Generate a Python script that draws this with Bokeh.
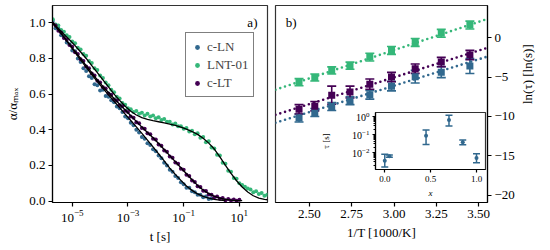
import numpy as np
from bokeh.plotting import figure
from bokeh.layouts import row
from bokeh.models import (ColumnDataSource, Range1d, FixedTicker, PrintfTickFormatter,
                          Legend, LegendItem, Label, Whisker, TeeHead)
from bokeh.embed import file_html
from bokeh.resources import INLINE

FONT = "Liberation Serif"
C_LN = "#31688e"
C_LNT = "#35b779"
C_LT = "#440154"

# ---------------- panel a data (log10 t, alpha/alpha_max) ----------------
log_t = [-5.7, -5.6, -5.5, -5.4, -5.3, -5.2, -5.1, -5.0, -4.9, -4.8, -4.7, -4.6, -4.5,
         -4.4, -4.3, -4.2, -4.1, -4.0, -3.9, -3.8, -3.7, -3.6, -3.5, -3.4, -3.3, -3.2,
         -3.1, -3.0, -2.9, -2.8, -2.7, -2.6, -2.5, -2.4, -2.3, -2.2, -2.1, -2.0, -1.9,
         -1.8, -1.7, -1.6, -1.5, -1.4, -1.3, -1.2, -1.1, -1.0, -0.9, -0.8, -0.7, -0.6,
         -0.5, -0.4, -0.3, -0.2, -0.1, 0.0, 0.1, 0.2, 0.3, 0.4, 0.5, 0.6, 0.7, 0.8, 0.9,
         1.0, 1.1, 1.2, 1.3, 1.4, 1.5, 1.6, 1.7, 1.8, 1.9, 2.0]

alpha_cln = [1.01, 0.97, 0.97, 0.93, 0.925, 0.89, 0.88, 0.845, 0.84, 0.80, 0.78, 0.745, 0.73,
             0.70, 0.69, 0.655, 0.65, 0.62, 0.625, 0.59, 0.585, 0.565, 0.555, 0.53, 0.52, 0.50,
             0.475, 0.465, 0.44, 0.425, 0.40, 0.385, 0.36, 0.35, 0.325, 0.315, 0.29, 0.28, 0.255,
             0.24, 0.215, 0.20, 0.175, 0.165, 0.14, 0.13, 0.105, 0.095, 0.075, 0.075, 0.055, 0.05,
             0.035, 0.036, 0.022, 0.025, 0.012, 0.014]

alpha_lnt = [1.02, 0.99, 0.985, 0.96, 0.95, 0.93, 0.92, 0.895, 0.885, 0.86, 0.85, 0.825, 0.815,
             0.785, 0.775, 0.745, 0.735, 0.705, 0.69, 0.665, 0.65, 0.625, 0.61, 0.585, 0.575, 0.55,
             0.54, 0.52, 0.515, 0.50, 0.505, 0.49, 0.495, 0.48, 0.49, 0.475, 0.48, 0.465, 0.47,
             0.455, 0.46, 0.445, 0.445, 0.43, 0.435, 0.42, 0.42, 0.405, 0.41, 0.39, 0.395, 0.375,
             0.38, 0.355, 0.36, 0.33, 0.335, 0.30, 0.295, 0.26, 0.255, 0.215, 0.21, 0.17, 0.165,
             0.13, 0.125, 0.10, 0.09, 0.08, 0.07, 0.065, 0.05, 0.055, 0.04, 0.045, 0.03, 0.035]

alpha_clt = [0.995, 0.985, 0.955, 0.945, 0.915, 0.905, 0.875, 0.865, 0.835, 0.825, 0.795, 0.785,
             0.755, 0.745, 0.715, 0.705, 0.675, 0.665, 0.638, 0.631, 0.604, 0.597, 0.57, 0.564,
             0.538, 0.532, 0.506, 0.50, 0.474, 0.468, 0.442, 0.436, 0.41, 0.405, 0.38, 0.375, 0.35,
             0.345, 0.318, 0.311, 0.284, 0.277, 0.25, 0.243, 0.216, 0.209, 0.182, 0.175, 0.148,
             0.141, 0.115, 0.107, 0.083, 0.079, 0.058, 0.057, 0.037, 0.035, 0.022, 0.026, 0.013,
             0.017, 0.005, 0.011, 0.003, 0.009, 0.002, 0.007]

# fitted curves (log10 t, alpha)
fit_log_t = [-5.7, -5.5, -5.3, -5.1, -4.9, -4.7, -4.5, -4.3, -4.1, -3.9, -3.7, -3.5, -3.3, -3.1,
             -2.9, -2.7, -2.5, -2.3, -2.1, -1.9, -1.7, -1.5, -1.3, -1.1, -0.9, -0.7, -0.5, -0.3,
             -0.1, 0.1, 0.3, 0.5, 0.7, 0.9, 1.1, 1.3, 1.5, 1.7, 1.9, 2.1]
fit_cln = [1.00, 0.96, 0.92, 0.877, 0.834, 0.792, 0.75, 0.71, 0.67, 0.632, 0.596, 0.56, 0.524,
           0.488, 0.452, 0.416, 0.38, 0.342, 0.304, 0.265, 0.225, 0.185, 0.150, 0.116, 0.085,
           0.060, 0.040, 0.026, 0.016, 0.009, 0.005, 0.002]
fit_clt = [1.00, 0.96, 0.92, 0.88, 0.84, 0.80, 0.76, 0.72, 0.68, 0.643, 0.609, 0.575, 0.543,
           0.511, 0.479, 0.447, 0.415, 0.385, 0.355, 0.323, 0.289, 0.255, 0.221, 0.187, 0.153,
           0.120, 0.088, 0.062, 0.042, 0.027, 0.016, 0.009, 0.005, 0.003, 0.002]
fit_lnt = [1.00, 0.968, 0.936, 0.905, 0.872, 0.836, 0.80, 0.76, 0.72, 0.68, 0.64, 0.60, 0.565,
           0.532, 0.504, 0.483, 0.468, 0.458, 0.451, 0.445, 0.439, 0.432, 0.424, 0.415, 0.404,
           0.39, 0.374, 0.352, 0.325, 0.292, 0.248, 0.20, 0.155, 0.114, 0.079, 0.051, 0.030,
           0.017, 0.009, 0.005]

# ---------------- panel b data ----------------
inv_T = [2.439, 2.532, 2.632, 2.740, 2.857, 2.985, 3.125, 3.279, 3.448]
ln_tau_ln = [-10.2, -9.5, -8.75, -8.0, -7.25, -6.15, -4.95, -4.37, -3.6]
err_ln = [0.5, 0.5, 0.5, 0.5, 0.55, 0.6, 0.8, 0.7, 0.95]
ln_tau_lnt = [-5.65, -5.05, -4.15, -3.55, -2.46, -1.61, -0.6, 0.57, 1.62]
err_lnt = [0.45, 0.45, 0.45, 0.45, 0.5, 0.5, 0.5, 0.5, 0.5]
ln_tau_lt = [-9.1, -8.7, -7.3, -6.9, -5.9, -5.0, -3.93, -3.09, -2.2]
err_lt = [0.6, 0.6, 1.15, 0.75, 0.65, 0.6, 0.6, 0.6, 0.6]

fit_invT = [2.30, 3.56]
fit_b_ln = [-10.8, -2.33]
fit_b_lnt = [-6.6, 2.45]
fit_b_lt = [-9.8, -1.22]

# ---------------- inset data ----------------
comp_x = [0.0, 0.05, 0.45, 0.7, 0.85, 1.0]
tau_c = [0.0035, 0.0063, 0.085, 0.63, 0.037, 0.005]
tau_lo = [0.0016, 0.0055, 0.028, 0.30, 0.027, 0.0027]
tau_hi = [0.0080, 0.0072, 0.18, 1.17, 0.049, 0.0087]


def style_axis(ax, fs="13px"):
    ax.major_label_text_font = FONT
    ax.major_label_text_font_size = fs
    ax.major_label_text_color = "black"
    ax.axis_label_text_font = FONT
    ax.axis_label_text_font_size = fs
    ax.axis_label_text_font_style = "normal"
    ax.axis_label_text_color = "black"
    ax.axis_line_color = "black"
    ax.axis_line_width = 1.2
    ax.major_tick_line_color = "black"
    ax.major_tick_line_width = 1.2
    ax.major_tick_in = 0
    ax.major_tick_out = 4
    ax.minor_tick_line_color = None
    ax.major_label_standoff = 3


def base_fig(**kw):
    p = figure(output_backend="svg", toolbar_location=None, title=None, **kw)
    p.xgrid.visible = False
    p.ygrid.visible = False
    p.outline_line_color = "#333333"
    p.outline_line_width = 1.2
    return p


# ---------------- panel a ----------------
p_a = base_fig(width=271, height=249, x_axis_type="log",
               x_range=Range1d(10 ** -5.71, 10 ** 2.01), y_range=Range1d(-0.008, 1.097),
               min_border_left=52, min_border_right=4, min_border_top=5, min_border_bottom=47)

t_ln = 10.0 ** np.array(log_t[:len(alpha_cln)])
t_lnt = 10.0 ** np.array(log_t[:len(alpha_lnt)])
t_lt = 10.0 ** np.array(log_t[:len(alpha_clt)])
r_ln = p_a.scatter(t_ln, alpha_cln, size=4, color=C_LN, line_color=None)
r_lnt = p_a.scatter(t_lnt, alpha_lnt, size=4, color=C_LNT, line_color=None)
r_lt = p_a.scatter(t_lt, alpha_clt, size=4, color=C_LT, line_color=None)

ft = 10.0 ** np.array(fit_log_t)
p_a.line(ft[:len(fit_cln)], fit_cln, color="black", line_width=1.3)
p_a.line(ft[:len(fit_lnt)], fit_lnt, color="black", line_width=1.3)
p_a.line(ft[:len(fit_clt)], fit_clt, color="black", line_width=1.3)

leg = Legend(items=[LegendItem(label="c-LN", renderers=[r_ln]),
                    LegendItem(label="LNT-01", renderers=[r_lnt]),
                    LegendItem(label="c-LT", renderers=[r_lt])],
             location=(133, 105), border_line_color="black", border_line_width=1.2,
             background_fill_color="white", background_fill_alpha=1.0,
             label_text_font=FONT, label_text_font_size="13px",
             glyph_width=12, glyph_height=12, label_standoff=4, spacing=1,
             padding=5, margin=0, label_height=17)
p_a.add_layout(leg)

p_a.xaxis.ticker = FixedTicker(ticks=[1e-5, 1e-3, 1e-1, 1e1])
p_a.yaxis.ticker = FixedTicker(ticks=[0.0, 0.2, 0.4, 0.6, 0.8, 1.0])
p_a.yaxis.formatter = PrintfTickFormatter(format="%.1f")
p_a.xaxis.axis_label = "t [s]"
p_a.yaxis.axis_label = "α/αₘₐₓ"
style_axis(p_a.xaxis[0])
style_axis(p_a.yaxis[0])
p_a.xaxis.axis_label_standoff = 4
p_a.yaxis.axis_label_standoff = 6
p_a.add_layout(Label(x=10 ** 1.65, y=1.0, text="a)", text_align="right", text_baseline="middle",
                     text_font=FONT, text_font_size="13px", text_color="black"))

# ---------------- panel b ----------------
p_b = base_fig(width=274, height=249, x_range=Range1d(2.30, 3.552), y_range=Range1d(-20.94, 4.10),
               y_axis_location="right",
               min_border_left=4, min_border_right=54, min_border_top=5, min_border_bottom=47)

for ys, errs, fy, col in [(ln_tau_ln, err_ln, fit_b_ln, C_LN),
                          (ln_tau_lnt, err_lnt, fit_b_lnt, C_LNT),
                          (ln_tau_lt, err_lt, fit_b_lt, C_LT)]:
    p_b.line(fit_invT, fy, color=col, line_width=2.6, line_dash="0 5", line_cap="round")
    src = ColumnDataSource(dict(x=inv_T, y=ys,
                                lo=[a - e for a, e in zip(ys, errs)],
                                hi=[a + e for a, e in zip(ys, errs)]))
    p_b.add_layout(Whisker(source=src, base="x", upper="hi", lower="lo", dimension="height",
                           line_color=col, line_width=1.6,
                           upper_head=TeeHead(size=9, line_color=col, line_width=1.6),
                           lower_head=TeeHead(size=9, line_color=col, line_width=1.6)))
    p_b.scatter("x", "y", source=src, marker="square", size=7, color=col, line_color=None)

p_b.xaxis.ticker = FixedTicker(ticks=[2.50, 2.75, 3.00, 3.25, 3.50])
p_b.xaxis.formatter = PrintfTickFormatter(format="%.2f")
p_b.yaxis.ticker = FixedTicker(ticks=[-20, -15, -10, -5, 0])
p_b.yaxis.major_label_overrides = {-20: "−20", -15: "−15", -10: "−10", -5: "−5", 0: "0"}
p_b.xaxis.axis_label = "1/T [1000/K]"
p_b.yaxis.axis_label = "ln(τ) [ln(s)]"
style_axis(p_b.xaxis[0])
style_axis(p_b.yaxis[0])
p_b.xaxis.axis_label_standoff = 4
p_b.yaxis.axis_label_standoff = 10
p_b.yaxis.axis_label_orientation = np.pi / 2
p_b.add_layout(Label(x=2.36, y=2.0, text="b)", text_align="left", text_baseline="middle",
                     text_font=FONT, text_font_size="13px", text_color="black"))

# ---------------- inset ----------------
p_in = base_fig(frame_width=110, frame_height=57, x_range=Range1d(-0.101, 1.098), y_axis_type="log",
                y_range=Range1d(10 ** -2.94, 10 ** 0.22),
                min_border_left=56, min_border_right=3, min_border_top=3, min_border_bottom=35,
                border_fill_color=None, background_fill_color="white",
                styles={"position": "absolute", "left": "318px", "top": "107px"})
src_in = ColumnDataSource(dict(x=comp_x, y=tau_c, lo=tau_lo, hi=tau_hi))
p_in.add_layout(Whisker(source=src_in, base="x", upper="hi", lower="lo", dimension="height",
                        line_color=C_LN, line_width=1.5,
                        upper_head=TeeHead(size=7, line_color=C_LN, line_width=1.5),
                        lower_head=TeeHead(size=7, line_color=C_LN, line_width=1.5)))
p_in.scatter("x", "y", source=src_in, size=4, color=C_LN, line_color=None)
p_in.xaxis.ticker = FixedTicker(ticks=[0.0, 0.5, 1.0])
p_in.xaxis.formatter = PrintfTickFormatter(format="%.1f")
p_in.yaxis.ticker = FixedTicker(ticks=[1e-2, 1e-1, 1.0],
                                minor_ticks=[m * 10.0 ** e for e in (-3, -2, -1) for m in range(2, 10)])
p_in.xaxis.axis_label = "x"
p_in.yaxis.axis_label = "τ [s]"
style_axis(p_in.xaxis[0], fs="9px")
style_axis(p_in.yaxis[0], fs="9px")
p_in.yaxis.major_label_text_font_size = "10px"
p_in.xaxis.axis_label_text_font_style = "italic"
p_in.xaxis.major_tick_out = 3
p_in.yaxis.major_tick_out = 3
p_in.yaxis.minor_tick_line_color = "black"
p_in.yaxis.minor_tick_out = 2
p_in.yaxis.minor_tick_in = 0
p_in.xaxis.axis_label_standoff = 3
p_in.yaxis.axis_label_standoff = 18

layout = row(p_a, p_b, p_in)
open("out.html", "w").write(file_html(layout, INLINE))
